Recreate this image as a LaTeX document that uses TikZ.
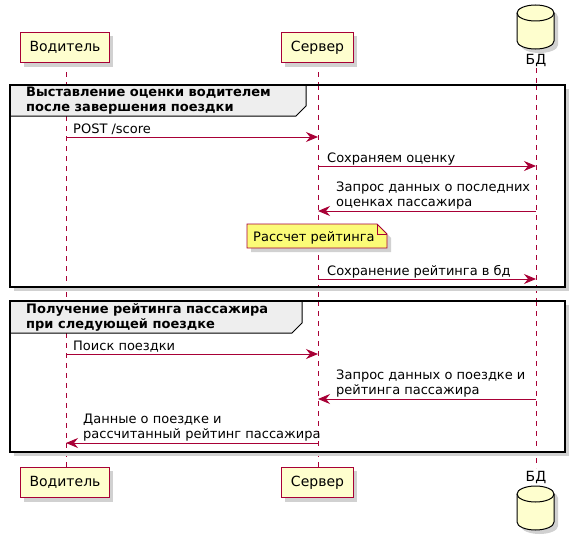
\documentclass[tikz,border=0pt]{standalone}
\usepackage{fontspec}
\setmainfont{DejaVu Sans}
\usetikzlibrary{arrows.meta}
\definecolor{umlred}{HTML}{A80036}
\definecolor{umlfill}{HTML}{FEFECE}
\definecolor{notefill}{HTML}{FBFB77}
\definecolor{grphead}{HTML}{EEEEEE}
\tikzset{
  lifeline/.style={umlred, line width=0.8pt, dash pattern=on 5pt off 5pt},
  msg/.style={umlred, line width=0.9pt, -{Stealth[length=12pt, width=10pt, inset=4pt]}},
  partbox/.style={draw=umlred, fill=umlfill, line width=1pt, minimum width=89pt, minimum height=30pt, inner sep=0pt, font=\fontsize{14}{16}\selectfont},
  lbl/.style={inner sep=0pt, align=left, font=\fontsize{13}{14.5}\selectfont},
  grptitle/.style={inner sep=0pt, align=left, font=\fontsize{13}{14.5}\selectfont\bfseries},
  frameline/.style={draw=black, line width=1.6pt},
}
\begin{document}
\begin{tikzpicture}[x=1pt,y=-1pt]
\useasboundingbox (0,0) rectangle (577,535);
% lifelines
\coordinate (v1) at (66,62); \coordinate (v2) at (66,467);
\coordinate (s1) at (318,62); \coordinate (s2) at (318,467);
\coordinate (d1) at (536,68); \coordinate (d2) at (536,468);
\draw[lifeline] (v1) -- (v2);
\draw[lifeline] (s1) -- (s2);
\draw[lifeline] (d1) -- (d2);
% participants with shadows
\fill[black!18] (24,36) rectangle ++(89,31);
\fill[black!18] (24,471) rectangle ++(89,31);
\fill[black!18] (285,36) rectangle ++(72,31);
\fill[black!18] (285,471) rectangle ++(72,31);
\node[partbox, anchor=north west] (drvTop) at (20,32) {Водитель};
\node[partbox, anchor=north west] (drvBot) at (20,467) {Водитель};
\node[partbox, anchor=north west, minimum width=72pt] (srvTop) at (281,32) {Сервер};
\node[partbox, anchor=north west, minimum width=72pt] (srvBot) at (281,467) {Сервер};
% database cylinders
\foreach \t in {5, 486}{
  \begin{scope}[shift={(0,\t)}]
    \fill[black!18] (521,12) -- (521,40) arc[start angle=180,end angle=360,x radius=18.5pt,y radius=8pt] -- (558,12) arc[start angle=0,end angle=180,x radius=18.5pt,y radius=8pt] -- cycle;
    \filldraw[fill=umlfill, draw=black, line width=1pt] (517,8) -- (517,36) arc[start angle=180,end angle=360,x radius=18.5pt,y radius=8pt] -- (554,8) arc[start angle=0,end angle=180,x radius=18.5pt,y radius=8pt] -- cycle;
    \draw[black, line width=1pt] (517,8) arc[start angle=180,end angle=360,x radius=18.5pt,y radius=8pt];
  \end{scope}
}
\node[inner sep=0pt, anchor=base, font=\fontsize{14}{16}\selectfont] (dbLblTop) at (536,64) {БД};
\node[inner sep=0pt, anchor=base, font=\fontsize{14}{16}\selectfont] (dbLblBot) at (536,481) {БД};
% group 1
\fill[black!18] (14,89) rectangle (569,291);
\fill[white] (10,85) rectangle (565,287);
\draw[lifeline] (66,116) -- (66,287);
\draw[lifeline] (318,85) -- (318,287);
\draw[lifeline] (536,85) -- (536,287);
\filldraw[fill=grphead, draw=black, line width=1pt] (10,85) -- (306,85) -- (306,106) -- (296,116) -- (10,116) -- cycle;
\draw[frameline] (10,85) rectangle (565,287);
\node[grptitle, anchor=base west] (g1t) at (26,111) {Выставление оценки водителем\\после завершения поездки};
% group 2
\fill[black!18] (14,305) rectangle (569,456);
\fill[white] (10,301) rectangle (565,452);
\draw[lifeline] (66,333) -- (66,452);
\draw[lifeline] (318,301) -- (318,452);
\draw[lifeline] (536,301) -- (536,452);
\filldraw[fill=grphead, draw=black, line width=1pt] (10,301) -- (302,301) -- (302,323) -- (292,333) -- (10,333) -- cycle;
\draw[frameline] (10,301) rectangle (565,452);
\node[grptitle, anchor=base west] (g2t) at (26,328) {Получение рейтинга пассажира\\при следующей поездке};
% message anchor coordinates
\coordinate (m1a) at (66,137); \coordinate (m1b) at (318,137);
\coordinate (m2a) at (318,166); \coordinate (m2b) at (536,166);
\coordinate (m3a) at (536,211); \coordinate (m3b) at (318,211);
\coordinate (m4a) at (318,279); \coordinate (m4b) at (536,279);
\coordinate (m5a) at (66,354); \coordinate (m5b) at (318,354);
\coordinate (m6a) at (536,399); \coordinate (m6b) at (318,399);
\coordinate (m7a) at (318,443); \coordinate (m7b) at (66,443);
\draw[msg] (m1a) -- (m1b);
\draw[msg] (m2a) -- (m2b);
\draw[msg] (m3a) -- (m3b);
\draw[msg] (m4a) -- (m4b);
\draw[msg] (m5a) -- (m5b);
\draw[msg] (m6a) -- (m6b);
\draw[msg] (m7a) -- (m7b);
\node[lbl, anchor=base west] (l1) at (73,133) {POST /score};
\node[lbl, anchor=base west] (l2) at (327,162) {Сохраняем оценку};
\node[lbl, anchor=base west] (l3) at (336,206) {Запрос данных о последних\\оценках пассажира};
\node[lbl, anchor=base west] (l4) at (327,275) {Сохранение рейтинга в бд};
\node[lbl, anchor=base west] (l5) at (73,350) {Поиск поездки};
\node[lbl, anchor=base west] (l6) at (336,394) {Запрос данных о поездке и\\рейтинга пассажира};
\node[lbl, anchor=base west] (l7) at (83,438) {Данные о поездке и\\рассчитанный рейтинг пассажира};
% note
\fill[black!18] (251,228) -- (381,228) -- (391,238) -- (391,252) -- (251,252) -- cycle;
\filldraw[fill=notefill, draw=umlred, line width=0.8pt] (247,224) -- (377,224) -- (387,234) -- (387,248) -- (247,248) -- cycle;
\draw[umlred, line width=0.8pt] (377,224) -- (377,234) -- (387,234);
\node[lbl, anchor=base west] (note) at (253,241) {Рассчет рейтинга};
\end{tikzpicture}
\end{document}
